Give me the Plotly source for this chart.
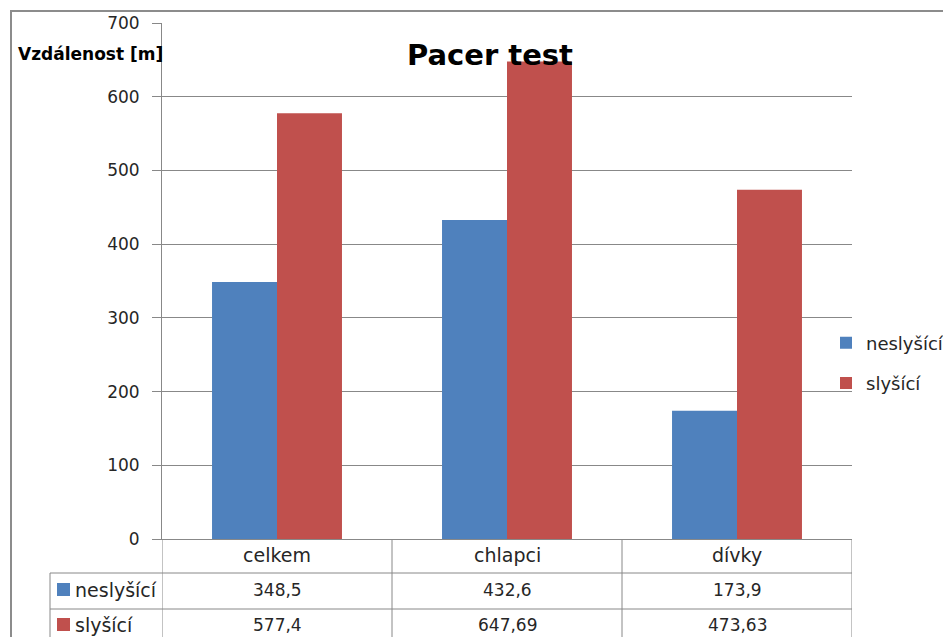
import plotly.graph_objects as go

categories = ["celkem", "chlapci", "dívky"]
neslysici = [348.5, 432.6, 173.9]
slysici = [577.4, 647.69, 473.63]
series_names = ["neslyšící", "slyšící"]
colors = ["#4F81BD", "#C0504D"]
y_ticks = [0, 100, 200, 300, 400, 500, 600, 700]

OFF = 8  # page body margin
W, H = 951 - OFF, 637 - OFF
L, R, T = 162 - OFF, 951 - 852, 23 - OFF
B = H - (539 - OFF)
PW, PH = W - L - R, H - T - B


def px_x(x):
    return (x - OFF - L) / PW


def px_y(y):
    return (H - B - (y - OFF)) / PH


def fmt(v):
    return ("%g" % v).replace(".", ",")


fig = go.Figure()
for name, vals, col in zip(series_names, [neslysici, slysici], colors):
    fig.add_trace(go.Bar(x=categories, y=vals, name=name, legendgroup=name,
                         marker=dict(color=col, line=dict(width=0))))

font = "DejaVu Sans"
grid = "#888888"
txt = "#262626"

shapes = []
annotations = []

# table horizontal lines
for ypix in [573, 609]:
    shapes.append(dict(type="line", xref="paper", yref="paper", x0=px_x(50), x1=1, y0=px_y(ypix), y1=px_y(ypix),
                       line=dict(color=grid, width=1)))
# vertical lines between categories
for xv in [-0.5, 0.5, 1.5, 2.5]:
    shapes.append(dict(type="line", xref="x", yref="paper", x0=xv, x1=xv, y0=0, y1=px_y(H + 30),
                       line=dict(color=grid, width=1)))
# legend-key column left border
shapes.append(dict(type="line", xref="paper", yref="paper", x0=px_x(50), x1=px_x(50), y0=px_y(573), y1=px_y(H + 30),
                   line=dict(color=grid, width=1)))
# outer chart border
shapes.append(dict(type="rect", xref="paper", yref="paper", x0=px_x(11), x1=px_x(W + 40), y0=px_y(H + 40), y1=px_y(11),
                   line=dict(color="#8c8c8c", width=2)))

# table rows
for row, (name, vals, col) in enumerate(zip(series_names, [neslysici, slysici], colors)):
    yc = [590, 625][row]
    shapes.append(dict(type="rect", xref="paper", yref="paper", x0=px_x(57), x1=px_x(70),
                       y0=px_y(yc + 6), y1=px_y(yc - 7), fillcolor=col, line=dict(width=0)))
    annotations.append(dict(text=name, xref="paper", yref="paper", x=px_x(73), y=px_y(yc), xanchor="left",
                            yanchor="middle", showarrow=False, font=dict(family=font, size=19, color=txt)))
    for cat, v in zip(categories, vals):
        annotations.append(dict(text=fmt(v), xref="x", yref="paper", x=cat, y=px_y(yc), xanchor="center",
                                yanchor="middle", showarrow=False, font=dict(family=font, size=17, color=txt)))

# header row category labels
for cat in categories:
    annotations.append(dict(text=cat, xref="x", yref="paper", x=cat, y=px_y(555), xanchor="center",
                            yanchor="middle", showarrow=False, font=dict(family=font, size=19, color=txt)))

# title and axis title
annotations.append(dict(text="<b>Pacer test</b>", xref="paper", yref="paper", x=px_x(490), y=px_y(55),
                        xanchor="center", yanchor="middle", showarrow=False,
                        font=dict(family=font, size=29, color="#000000")))
annotations.append(dict(text="<b>Vzdálenost [m]</b>", xref="paper", yref="paper", x=px_x(90), y=px_y(54),
                        xanchor="center", yanchor="middle", showarrow=False,
                        font=dict(family=font, size=17, color="#000000")))

fig.update_layout(
    width=W, height=H,
    margin=dict(l=L, r=R, t=T, b=B, pad=0, autoexpand=False),
    paper_bgcolor="white", plot_bgcolor="white",
    barmode="group", bargap=0.435, bargroupgap=0,
    showlegend=True,
    legend=dict(x=px_x(826), y=px_y(363), xanchor="left", yanchor="middle",
                font=dict(family=font, size=18, color=txt), bgcolor="rgba(0,0,0,0)",
                traceorder="grouped", tracegroupgap=14, itemwidth=30),
    shapes=shapes,
    annotations=annotations,
    xaxis=dict(type="category", range=[-0.5, 2.5], showticklabels=False, ticks="", showgrid=False,
               showline=True, linecolor=grid, linewidth=1, zeroline=False, fixedrange=True),
    yaxis=dict(range=[0, 700], tickvals=y_ticks, ticks="outside", ticklen=9, tickcolor=grid,
               showgrid=True, gridcolor=grid, gridwidth=1, showline=True, linecolor=grid, linewidth=1,
               zeroline=False, ticklabelstandoff=9,
               tickfont=dict(family=font, size=17, color=txt), fixedrange=True),
)

fig.write_html("out.html")
